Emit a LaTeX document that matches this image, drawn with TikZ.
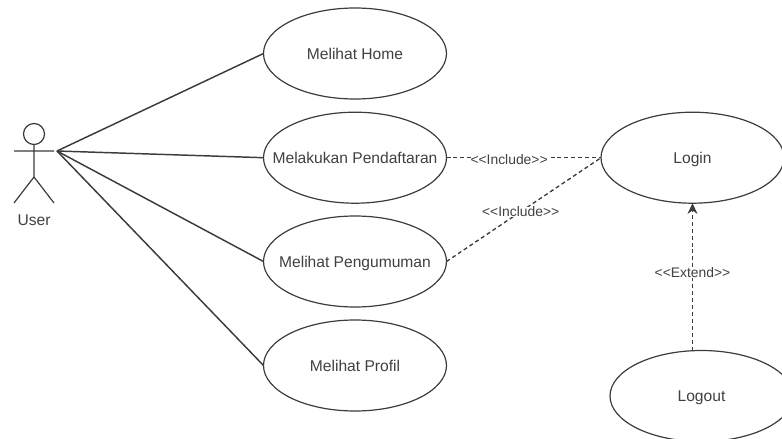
\documentclass[tikz,border=0pt]{standalone}
\usepackage{fontspec}
\setmainfont{Liberation Sans}
\usepackage{tikz}
\usetikzlibrary{arrows.meta}
\usetikzlibrary{shapes.geometric}

\definecolor{linegray}{HTML}{3C3C3C}

\begin{document}
\begin{tikzpicture}[x=.75pt, y=-.75pt, line width=.9pt, font=\fontsize{11.7}{13}\selectfont,
every node/.style={text=black!75},
every label/.style={text depth=0pt},
usecase/.style={draw=linegray, ellipse, inner sep = 0pt, outer sep = 0pt, minimum width = 137.25pt, minimum height = 68.25pt},
rel/.style={draw=linegray, line width=1pt, dash pattern=on 3pt off 2.2pt},
rellabel/.style={fill=white, inner sep = 0pt, font=\fontsize{10.4}{12}\selectfont}]
\useasboundingbox (0,0) rectangle (782,439);
\foreach \n/\y/\t in {home/53.5/Melihat Home, daftar/157.7/Melakukan Pendaftaran, umum/261.5/Melihat Pengumuman, profil/365.5/Melihat Profil}{
\node[usecase, label={center:\t}] (\n) at (355,\y){};}
\node[usecase, label={center:Login}] (login) at (692.5,157.7){};
\begin{scope}
\clip (0,0) rectangle (782,439);
\node[usecase, label={center:Logout}] (logout) at (701.5,396){};
\end{scope}
% actor
\node[draw=linegray, circle, inner sep = 0pt, outer sep = 0pt, minimum size = 15.75pt] (head) at (34,134){};
\coordinate (hip) at (34,177);
\coordinate (arml) at (14,151);
\coordinate (armr) at (54,151);
\coordinate (legl) at (14,203);
\coordinate (legr) at (54,203);
\coordinate (hand) at (57,151);
\node (user) at (34,220){User};
\draw[linegray] (head) -- (hip) (arml) -- (armr) (legl) -- (hip) -- (legr);
\foreach \n in {home, daftar, umum, profil}{
\draw[linegray, line width=1.1pt] (hand) -- (\n.west);}
\draw[rel] (daftar.east) -- (login.west) node[rellabel, pos=.405, yshift=-1.5pt] (inc1) {<{}<Include>{}>};
\draw[rel] (umum.east) -- (login.west) node[rellabel, pos=.48] (inc2) {<{}<Include>{}>};
\draw[rel, -{Stealth[length=8pt, width=7.5pt]}] (login.south |- logout.north) -- (login.south) node[rellabel, pos=.53] (ext) {<{}<Extend>{}>};
\end{tikzpicture}
\end{document}
